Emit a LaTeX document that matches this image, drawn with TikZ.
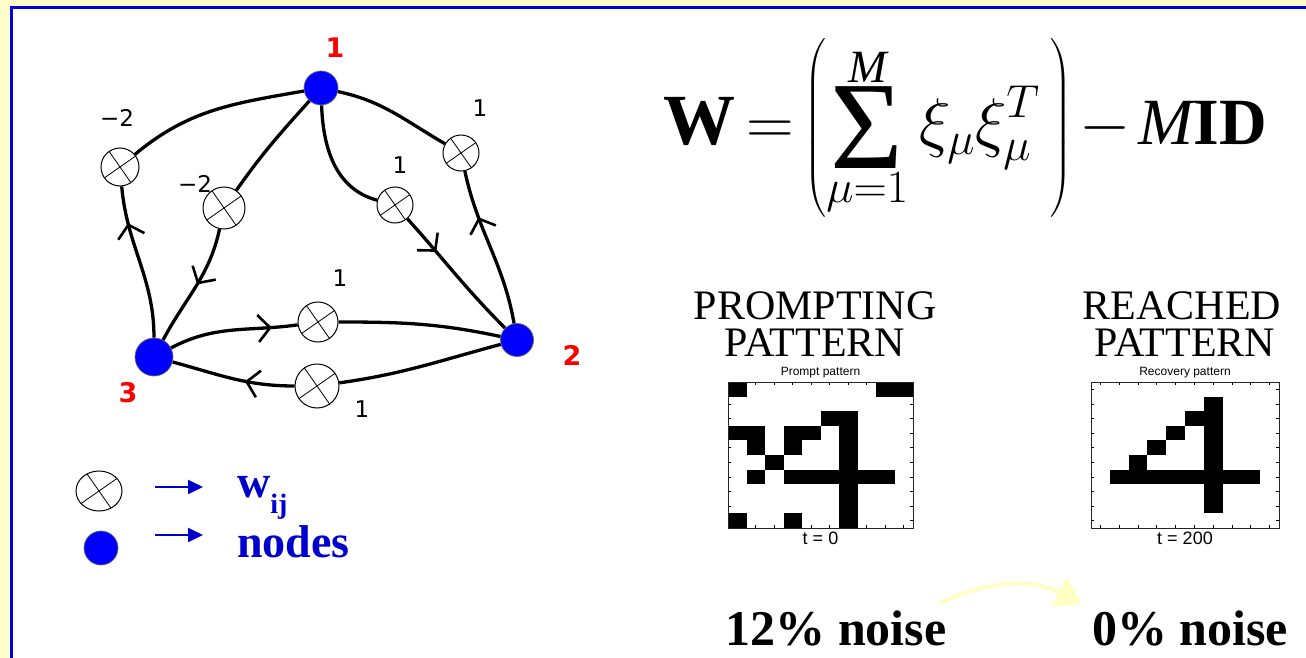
\RequirePackage{fix-cm}
\documentclass[tikz,border=0pt]{standalone}
\usepackage{amsmath}
\usepackage{fontspec}
\setmainfont{Liberation Serif}
\newfontfamily\labfont{DejaVu Sans}
\newfontfamily\plotfont{Liberation Sans}
\usepackage{xcolor}
\usepackage{tikz}
\usetikzlibrary{positioning,shapes.geometric,arrows.meta,decorations.markings,calc}

\definecolor{slideyellow}{RGB}{255,255,204}
\definecolor{frameblue}{RGB}{0,0,224}
\definecolor{nodeblue}{RGB}{0,0,255}
\definecolor{textblue}{RGB}{0,0,204}
\definecolor{paleyellow}{RGB}{255,255,196}

\newcommand{\bigsigma}{\mathop{\vcenter{\hbox{\fontsize{125}{125}\selectfont Σ}}}\limits}

\begin{document}
\begin{tikzpicture}[x=1pt, y=1pt,
    gnode/.style={circle, fill=nodeblue, draw=black!60, line width=0.7pt, minimum size=#1, inner sep=0pt},
    wnode/.style={circle, draw=black, line width=1pt, fill=white, minimum size=#1, inner sep=0pt,
      path picture={
        \draw[line width=0.8pt] ($(path picture bounding box.center)+(35:30)$) -- ($(path picture bounding box.center)+(215:30)$);
        \draw[line width=0.8pt] ($(path picture bounding box.center)+(125:30)$) -- ($(path picture bounding box.center)+(305:30)$);}},
    wire/.style={line width=3.3pt},
    midarrow/.style={postaction={decorate}, decoration={markings,
      mark=at position #1 with {\arrow{Straight Barb[length=12pt,width=27pt,line width=2.6pt]}}}},
    nlabel/.style={text=red, font=\labfont\bfseries\fontsize{27}{27}\selectfont, inner sep=0pt},
    wlabel/.style={font=\labfont\fontsize{23}{23}\selectfont, inner sep=0pt},
    legtext/.style={text=textblue, font=\bfseries\fontsize{46}{46}\selectfont, inner sep=0pt, anchor=base west},
    legarrow/.style={textblue, line width=2pt, -{Triangle[length=15pt,width=14pt]}},
    bigcap/.style={font=\fontsize{42}{42}\selectfont, inner sep=0pt, anchor=base},
    noise/.style={font=\bfseries\fontsize{50}{50}\selectfont, inner sep=0pt, anchor=base},
    plotbox/.style={draw=black!85, line width=1pt, minimum width=#1, minimum height=146pt, inner sep=0pt},
    plottitle/.style={font=\plotfont\fontsize{12}{12}\selectfont, inner sep=0pt},
    plottime/.style={font=\plotfont\fontsize{18}{18}\selectfont, inner sep=0pt}
]
    \useasboundingbox (0,0) rectangle (1306,-658);
    \clip (0,0) rectangle (1306,-658);

    % Slide frame
    \fill[slideyellow] (0,0) rectangle (1306,-658);
    \draw[frameblue, line width=3pt, fill=white] (11,-7.5) rectangle (1340,-690);

    % Network nodes
    \node[gnode=34pt] (n1) at (321,-88) {};
    \node[gnode=33pt] (n2) at (517,-340) {};
    \node[gnode=38pt] (n3) at (154,-357) {};
    \node[nlabel] (l1) at (335,-48) {1};
    \node[nlabel] (l2) at (572,-355) {2};
    \node[nlabel] (l3) at (128,-393) {3};

    % Weights
    \node[wnode=38pt] (wa) at (120,-167) {};
    \node[wnode=42pt] (wb) at (224,-208) {};
    \node[wnode=36pt] (wc) at (395,-205) {};
    \node[wnode=36pt] (wd) at (461,-153) {};
    \node[wnode=40pt] (we) at (318,-322) {};
    \node[wnode=44pt] (wf) at (317,-386) {};
    \node[wlabel] (ta) at (117,-118) {−2};
    \node[wlabel] (tb) at (195,-184) {−2};
    \node[wlabel] (tc) at (400,-165) {1};
    \node[wlabel] (td) at (480,-108) {1};
    \node[wlabel] (te) at (340,-278) {1};
    \node[wlabel] (tf) at (362,-409) {1};

    % Connections
    \draw[wire] (n1) to[out=190,in=40] (wa);
    \draw[wire, midarrow=0.76] (n3) to[out=90,in=275] (wa);
    \draw[wire] (n1) to[out=228,in=55] (wb);
    \draw[wire, midarrow=0.48] (wb) to[out=258,in=62] (n3);
    \draw[wire] (n1) to[out=272,in=165] (wc);
    \draw[wire, midarrow=0.3] (wc) to[out=-48,in=135] (n2);
    \draw[wire] (n1) to[out=-12,in=150] (wd);
    \draw[wire, midarrow=0.7] (n2) to[out=100,in=282] (wd);
    \draw[wire, midarrow=0.8] (n3) to[out=28,in=188] (we);
    \draw[wire] (we) to[out=0,in=168] (n2);
    \draw[wire] (n2) to[out=195,in=8] (wf);
    \draw[wire, midarrow=0.4] (wf) to[out=180,in=-15] (n3);

    % Legend
    \node[wnode=40pt, ellipse, minimum width=46pt] (legw) at (99,-491) {};
    \node[gnode=34pt] (legn) at (101,-548) {};
    \coordinate (la1) at (155,-487);
    \coordinate (lb1) at (203,-487);
    \coordinate (la2) at (155,-535);
    \coordinate (lb2) at (203,-535);
    \draw[legarrow] (la1) -- (lb1);
    \draw[legarrow] (la2) -- (lb2);
    \node[legtext] (wij) at (237,-497) {w\raisebox{-0.36em}{\fontsize{28}{28}\selectfont ij}};
    \node[legtext] (legnodes) at (237,-557) {nodes};

    % Learning rule
    \node (rule) at (965,-128) {\fontsize{66}{70}\selectfont \thickmuskip=3mu \medmuskip=2mu
      $\displaystyle \text{\fontsize{72}{72}\selectfont\bfseries W} = \left( \bigsigma_{\mu=1}^{\mathit{M}} \xi_\mu \xi_\mu^T \;\right) - \mathit{M}\mathbf{ID}$};

    % Captions
    \node[bigcap] (prompt1) at (815,-319) {PROMPTING};
    \node[bigcap] (prompt2) at (815,-356) {PATTERN};
    \node[bigcap] (reach1) at (1182,-319) {REACHED};
    \node[bigcap] (reach2) at (1185,-356) {PATTERN};

    % Prompt pattern (12% noise)
    \foreach \k in {0,...,9} {
      \draw[line width=0.8pt] ({737.25+18.5*\k},-382) -- ++(0,-3);
      \draw[line width=0.8pt] ({737.25+18.5*\k},-528) -- ++(0,3);
      \draw[line width=0.8pt] (728,{-389.3-14.6*\k}) -- ++(3,0);
      \draw[line width=0.8pt] (913,{-389.3-14.6*\k}) -- ++(-3,0);
    }
    \foreach \c/\r in {0/0,8/0,9/0, 5/2,6/2, 0/3,1/3,3/3,4/3,6/3, 1/4,3/4,6/4, 2/5,6/5,
                       1/6,3/6,4/6,5/6,6/6,7/6,8/6, 6/7, 6/8, 0/9,3/9,6/9}
      \fill ({728+\c*18.5},{-382-\r*14.6}) rectangle ++(18.5,-14.6);
    \node[plotbox=185pt] (pbox) at (820.5,-455) {};
    \node[plottitle, above=3pt of pbox] (ptitle) {Prompt pattern};
    \node[plottime, below=3pt of pbox] (ptime) {t = 0};

    % Recovered pattern
    \foreach \k in {0,...,9} {
      \draw[line width=0.8pt] ({1100.4+18.8*\k},-382) -- ++(0,-3);
      \draw[line width=0.8pt] ({1100.4+18.8*\k},-528) -- ++(0,3);
      \draw[line width=0.8pt] (1091,{-389.3-14.6*\k}) -- ++(3,0);
      \draw[line width=0.8pt] (1279,{-389.3-14.6*\k}) -- ++(-3,0);
    }
    \foreach \c/\r in {6/1, 5/2,6/2, 4/3,6/3, 3/4,6/4, 2/5,6/5,
                       1/6,2/6,3/6,4/6,5/6,6/6,7/6,8/6, 6/7, 6/8}
      \fill ({1091+\c*18.8},{-382-\r*14.6}) rectangle ++(18.8,-14.6);
    \node[plotbox=188pt] (rbox) at (1185,-455) {};
    \node[plottitle, above=3pt of rbox] (rtitle) {Recovery pattern};
    \node[plottime, below=3pt of rbox] (rtime) {t = 200};

    % Noise levels
    \node[noise] (noise1) at (836,-645) {12\% noise};
    \node[noise] (noise2) at (1190,-645) {0\% noise};
    \coordinate (ya) at (940,-603);
    \coordinate (yb) at (1082,-604);
    \draw[paleyellow, line width=4pt, -{Triangle[length=26pt,width=32pt]}] (ya) to[out=25,in=153] (yb);
\end{tikzpicture}
\end{document}
